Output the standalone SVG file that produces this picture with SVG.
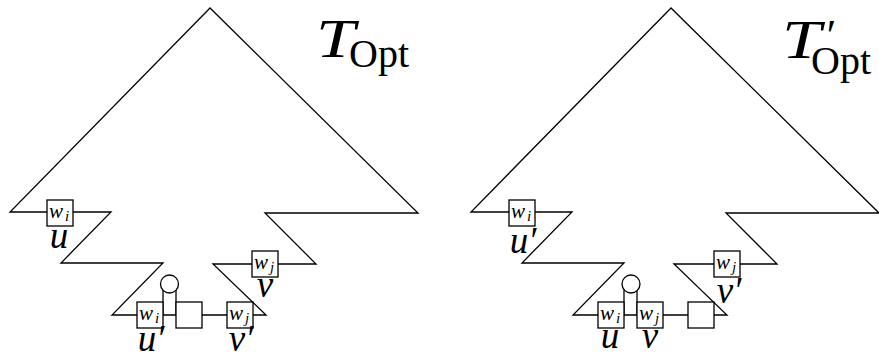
<svg xmlns="http://www.w3.org/2000/svg" width="879" height="358" viewBox="0 0 879 358">
<style>
.ln{fill:none;stroke:#000;stroke-width:1.3;stroke-linejoin:miter}
.bx{fill:#fff;stroke:#000;stroke-width:1.3}
.m{font-family:"Liberation Serif","DejaVu Serif",serif;font-style:italic;fill:#000}
.w{font-size:21px}
.s{font-size:15px}
.lab{font-size:37px;text-anchor:middle}
.rm{font-family:"Liberation Serif","DejaVu Serif",serif;font-style:normal;fill:#000}
</style>
<defs>
<rect id="box" class="bx" x="-13" y="-13" width="26" height="26"/>
</defs>

<g id="connectors">
<path class="ln" d="M210,8 L10,212 L111,212 L61,263 L163,263 L112,315 L266,315 L213,264 L316,264 L265,213 L418,213 Z"/>
<path class="ln" d="M163,290 V315 M176,290 V315"/>
<g transform="translate(461,0)">
<path class="ln" d="M210,8 L10,212 L111,212 L61,263 L163,263 L112,315 L266,315 L213,264 L316,264 L265,213 L418,213 Z"/>
<path class="ln" d="M163,290 V315 M176,290 V315"/>
</g>
</g>

<g id="tree-left">
<g id="title-left">
<text class="m" x="316" y="57" font-size="54" textLength="39" lengthAdjust="spacingAndGlyphs">T</text>
<text class="rm" x="349" y="67" font-size="40" textLength="60" lengthAdjust="spacingAndGlyphs">Opt</text>
</g>
<g id="L-u">
<use href="#box" x="60" y="213"/>
<text class="m w" x="49" y="218">w<tspan class="s" dx="2" dy="3">i</tspan></text>
<text class="m lab" x="59" y="248">u</text>
</g>
<g id="L-v">
<use href="#box" x="265" y="264"/>
<text class="m w" x="254" y="269">w<tspan class="s" dx="2" dy="3">j</tspan></text>
<text class="m lab" x="265" y="297">v</text>
</g>
<g id="L-circle">
<circle class="bx" cx="169.5" cy="284" r="9"/>
</g>
<g id="L-u2">
<use href="#box" x="150" y="315"/>
<text class="m w" x="139" y="320">w<tspan class="s" dx="2" dy="3">i</tspan></text>
<text class="m lab" x="151" y="351">u′</text>
</g>
<g id="L-empty">
<use href="#box" x="189" y="315"/>
</g>
<g id="L-v2">
<use href="#box" x="240" y="315"/>
<text class="m w" x="229" y="320">w<tspan class="s" dx="2" dy="3">j</tspan></text>
<text class="m lab" x="241" y="351">v′</text>
</g>
</g>

<g id="tree-right" transform="translate(461,0)">
<g id="title-right">
<text class="m" x="321" y="58" font-size="54" textLength="39" lengthAdjust="spacingAndGlyphs">T</text>
<text class="m" x="363" y="50" font-size="44">′</text>
<text class="rm" x="350" y="74" font-size="40" textLength="60" lengthAdjust="spacingAndGlyphs">Opt</text>
</g>
<g id="R-u2">
<use href="#box" x="61" y="213"/>
<text class="m w" x="50" y="218">w<tspan class="s" dx="2" dy="3">i</tspan></text>
<text class="m lab" x="62" y="253">u′</text>
</g>
<g id="R-v2">
<use href="#box" x="266" y="264"/>
<text class="m w" x="255" y="269">w<tspan class="s" dx="2" dy="3">j</tspan></text>
<text class="m lab" x="268" y="303">v′</text>
</g>
<g id="R-circle">
<circle class="bx" cx="170" cy="284" r="9"/>
</g>
<g id="R-u">
<use href="#box" x="150" y="315"/>
<text class="m w" x="139" y="320">w<tspan class="s" dx="2" dy="3">i</tspan></text>
<text class="m lab" x="149" y="348">u</text>
</g>
<g id="R-v">
<use href="#box" x="189" y="315"/>
<text class="m w" x="178" y="320">w<tspan class="s" dx="2" dy="3">j</tspan></text>
<text class="m lab" x="189" y="348">v</text>
</g>
<g id="R-empty">
<use href="#box" x="240" y="315"/>
</g>
</g>
</svg>
